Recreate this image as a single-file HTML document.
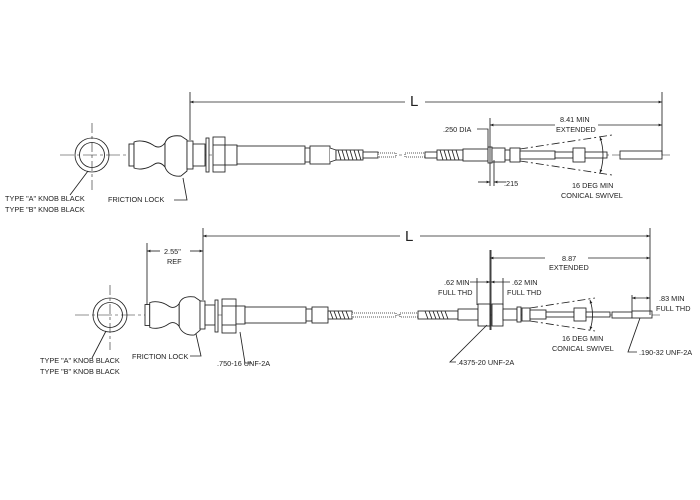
<!DOCTYPE html>
<html><head><meta charset="utf-8"><style>
html,body{margin:0;padding:0;background:#fff}
svg{display:block}
text{font-family:"Liberation Sans",sans-serif;font-size:7.3px;fill:#222}
</style></head><body>
<svg width="700" height="500" viewBox="0 0 700 500" xmlns="http://www.w3.org/2000/svg">
<defs>
<marker id="a" viewBox="0 0 10 10" refX="10" refY="5" markerWidth="6" markerHeight="4" orient="auto-start-reverse"><path d="M0,1L10,5L0,9z" fill="#222"/></marker>
<g id="knob" fill="#fff" stroke="#222" stroke-width="0.9">
  <rect x="0" y="-11" width="5" height="22"/>
  <path d="M5,-13 C10,-15 18,-14 24,-10 C28,-7 32,-7 36,-12 L36,12 C32,7 28,7 24,10 C18,14 10,15 5,13 Z"/>
  <path d="M36,-12 C38,-18 44,-20 52,-19 L58,-15 L58,16 L52,21 C44,22 38,18 36,12 Z"/>
</g>
</defs>
<g stroke="#222" stroke-width="0.85" fill="none">
<!-- ===== TOP ===== -->
<line x1="60" y1="155" x2="670" y2="155" stroke-dasharray="14,3,3,3" stroke-width="0.6"/>
<circle cx="92" cy="155" r="17"/><circle cx="92" cy="155" r="12.5"/>
<line x1="92" y1="123" x2="92" y2="190" stroke-dasharray="10,3,3,3" stroke-width="0.6"/>
<line x1="88" y1="171" x2="70" y2="195"/>
<use href="#knob" x="129" y="155"/>
<rect x="187" y="141" width="6" height="28" fill="#fff"/>
<rect x="193" y="144" width="12" height="22" fill="#fff"/>
<rect x="206" y="138" width="3" height="34" fill="#fff"/>
<rect x="213" y="137" width="12" height="35" fill="#fff"/>
<line x1="213" y1="145" x2="225" y2="145"/><line x1="213" y1="165" x2="225" y2="165"/>
<rect x="225" y="145" width="12" height="20" fill="#fff"/>
<rect x="237" y="146" width="68" height="18" fill="#fff"/>
<rect x="305" y="148" width="5" height="14" fill="#fff"/>
<rect x="310" y="146" width="20" height="18" fill="#fff"/>
<path d="M330,148 L336,150 L336,160 L330,162" fill="#fff"/>
<rect x="336" y="150" width="27" height="10" fill="#fff"/>
<path d="M338,150 l3,10 M342,150 l3,10 M346,150 l3,10 M350,150 l3,10 M354,150 l3,10 M358,150 l3,10"/>
<rect x="363" y="152" width="15" height="6" fill="#fff"/>
<rect x="378" y="153" width="18" height="4" fill="#fff" stroke-dasharray="1,1"/>
<rect x="405" y="153" width="20" height="4" fill="#fff" stroke-dasharray="1,1"/>
<rect x="425" y="152" width="12" height="6" fill="#fff"/>
<rect x="437" y="150" width="26" height="10" fill="#fff"/>
<path d="M440,150 l3,10 M444,150 l3,10 M448,150 l3,10 M452,150 l3,10 M456,150 l3,10"/>
<rect x="463" y="149" width="25" height="12" fill="#fff"/>
<rect x="488" y="147" width="4" height="16" fill="#fff"/>
<rect x="492" y="148" width="13" height="14" fill="#fff"/>
<rect x="505" y="150" width="5" height="10" fill="#fff"/>
<rect x="510" y="148" width="10" height="14" fill="#fff"/>
<rect x="520" y="151" width="35" height="8" fill="#fff"/>
<rect x="555" y="152" width="18" height="6" fill="#fff"/>
<rect x="573" y="148" width="12" height="14" fill="#fff"/>
<rect x="585" y="152" width="22" height="6" fill="#fff"/>
<rect x="620" y="151" width="42" height="8" fill="#fff"/>
<line x1="520" y1="149" x2="612" y2="135" stroke-dasharray="8,3,2,3"/>
<line x1="520" y1="161" x2="612" y2="175" stroke-dasharray="8,3,2,3"/>
<path d="M600,137 Q606,155 600,173" marker-start="url(#a)" marker-end="url(#a)"/>
<!-- top dims -->
<line x1="190" y1="92" x2="190" y2="140"/>
<line x1="662" y1="92" x2="662" y2="155"/>
<line x1="190" y1="102" x2="405" y2="102" marker-start="url(#a)"/>
<line x1="425" y1="102" x2="662" y2="102" marker-end="url(#a)"/>
<line x1="490" y1="118" x2="490" y2="186"/>
<line x1="494" y1="160" x2="494" y2="186"/>
<line x1="490" y1="125" x2="555" y2="125" marker-start="url(#a)"/>
<line x1="598" y1="125" x2="662" y2="125" marker-end="url(#a)"/>
<path d="M477,129 H488 V148"/>
<line x1="478" y1="182" x2="490" y2="182" marker-end="url(#a)"/>
<line x1="506" y1="182" x2="494" y2="182" marker-end="url(#a)"/>
<path d="M183,178 L187,200 H174"/>
<!-- ===== BOTTOM ===== -->
<line x1="75" y1="315" x2="660" y2="315" stroke-dasharray="14,3,3,3" stroke-width="0.6"/>
<circle cx="110" cy="315" r="17"/><circle cx="110" cy="315" r="12.5"/>
<line x1="110" y1="285" x2="110" y2="350" stroke-dasharray="10,3,3,3" stroke-width="0.6"/>
<line x1="106" y1="331" x2="92" y2="358"/>
<use href="#knob" x="0" y="0" transform="translate(145,315) scale(0.95)"/>
<rect x="200" y="301" width="5" height="28" fill="#fff"/>
<rect x="205" y="305" width="10" height="20" fill="#fff"/>
<rect x="215" y="300" width="3" height="32" fill="#fff"/>
<rect x="222" y="299" width="14" height="34" fill="#fff"/>
<line x1="222" y1="306" x2="236" y2="306"/><line x1="222" y1="325" x2="236" y2="325"/>
<rect x="236" y="306" width="9" height="18" fill="#fff"/>
<rect x="245" y="307" width="61" height="16" fill="#fff"/>
<rect x="306" y="309" width="6" height="12" fill="#fff"/>
<rect x="312" y="307" width="16" height="16" fill="#fff"/>
<rect x="328" y="311" width="24" height="8" fill="#fff"/>
<path d="M330,311 l3,8 M334,311 l3,8 M338,311 l3,8 M342,311 l3,8 M346,311 l3,8"/>
<rect x="352" y="313" width="44" height="4" fill="#fff" stroke-dasharray="1,1"/>
<rect x="400" y="313" width="18" height="4" fill="#fff" stroke-dasharray="1,1"/>
<rect x="418" y="311" width="40" height="8" fill="#fff"/>
<path d="M425,311 l3,8 M429,311 l3,8 M433,311 l3,8 M437,311 l3,8 M441,311 l3,8 M445,311 l3,8"/>
<rect x="458" y="309" width="20" height="11" fill="#fff"/>
<rect x="478" y="304" width="12" height="22" fill="#fff"/>
<rect x="492" y="304" width="11" height="22" fill="#fff"/>
<rect x="503" y="309" width="14" height="11" fill="#fff"/>
<rect x="517" y="307" width="4" height="15" fill="#fff"/>
<rect x="522" y="308" width="8" height="13" fill="#fff"/>
<rect x="530" y="310" width="16" height="9" fill="#fff"/>
<rect x="546" y="312" width="28" height="5" fill="#fff"/>
<rect x="574" y="308" width="12" height="13" fill="#fff"/>
<rect x="586" y="312" width="24" height="5" fill="#fff"/>
<rect x="612" y="312" width="20" height="6" fill="#fff"/>
<rect x="632" y="311" width="20" height="7" fill="#fff"/>
<line x1="530" y1="308" x2="595" y2="298" stroke-dasharray="8,3,2,3"/>
<line x1="530" y1="321" x2="595" y2="331" stroke-dasharray="8,3,2,3"/>
<path d="M590,300 Q595,315 590,330" marker-start="url(#a)" marker-end="url(#a)"/>
<!-- bottom dims -->
<line x1="203" y1="228" x2="203" y2="300"/>
<line x1="147" y1="243" x2="147" y2="305"/>
<line x1="650" y1="228" x2="650" y2="315"/>
<line x1="203" y1="236" x2="400" y2="236" marker-start="url(#a)"/>
<line x1="420" y1="236" x2="650" y2="236" marker-end="url(#a)"/>
<line x1="147" y1="251" x2="160" y2="251" marker-start="url(#a)"/>
<line x1="190" y1="251" x2="203" y2="251" marker-end="url(#a)"/>
<line x1="490" y1="250" x2="490" y2="330"/>
<line x1="491" y1="250" x2="491" y2="330"/>
<line x1="477" y1="278" x2="477" y2="305"/>
<line x1="503" y1="278" x2="503" y2="305"/>
<line x1="490" y1="258" x2="545" y2="258" marker-start="url(#a)"/>
<line x1="588" y1="258" x2="650" y2="258" marker-end="url(#a)"/>
<line x1="470" y1="282" x2="490" y2="282" marker-end="url(#a)"/>
<line x1="510" y1="282" x2="491" y2="282" marker-end="url(#a)"/>
<line x1="632" y1="295" x2="632" y2="311"/>
<line x1="632" y1="298" x2="650" y2="298" marker-start="url(#a)" marker-end="url(#a)"/>
<path d="M196,334 L201,356 H190"/>
<path d="M240,332 L245,363 H252"/>
<path d="M487,325 L450,362 H456"/>
<path d="M640,318 L628,352 H637"/>
</g>
<!-- text -->
<text x="410" y="106" style="font-size:15px">L</text>
<text x="560" y="122">8.41 MIN</text>
<text x="556" y="132">EXTENDED</text>
<text x="443" y="132">.250 DIA</text>
<text x="504" y="186">.215</text>
<text x="572" y="188">16  DEG MIN</text>
<text x="561" y="198">CONICAL SWIVEL</text>
<text x="5" y="201">TYPE "A" KNOB BLACK</text>
<text x="5" y="212">TYPE "B" KNOB BLACK</text>
<text x="108" y="202">FRICTION LOCK</text>
<text x="405" y="241" style="font-size:15px">L</text>
<text x="164" y="254">2.55"</text>
<text x="167" y="264">REF</text>
<text x="562" y="261">8.87</text>
<text x="549" y="270">EXTENDED</text>
<text x="444" y="285">.62 MIN</text>
<text x="438" y="295">FULL THD</text>
<text x="512" y="285">.62 MIN</text>
<text x="507" y="295">FULL THD</text>
<text x="659" y="301">.83 MIN</text>
<text x="656" y="311">FULL THD</text>
<text x="562" y="341">16  DEG MIN</text>
<text x="552" y="351">CONICAL SWIVEL</text>
<text x="639" y="355">.190-32 UNF-2A</text>
<text x="457" y="365">.4375-20 UNF-2A</text>
<text x="132" y="359">FRICTION LOCK</text>
<text x="217" y="366">.750-16 UNF-2A</text>
<text x="40" y="363">TYPE "A" KNOB BLACK</text>
<text x="40" y="374">TYPE "B" KNOB BLACK</text>
</svg>
</body></html>
